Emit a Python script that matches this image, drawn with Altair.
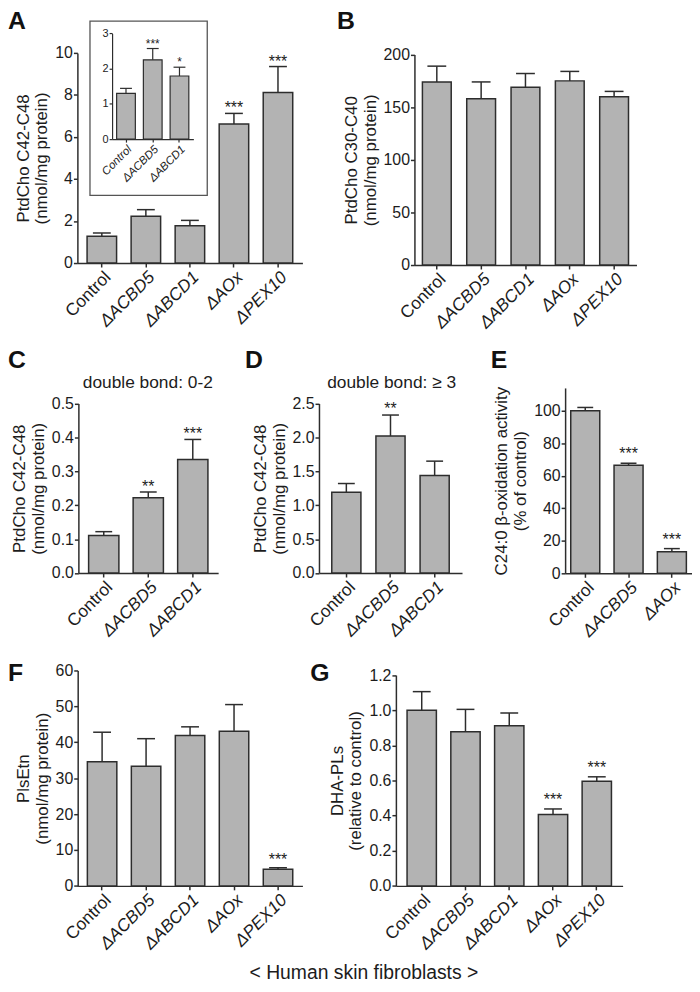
import altair as alt
import pandas as pd

FONT = "Liberation Sans"
BAR_FILL = "#b3b3b3"
INK = "#2d2d2d"
TXT = "#1c1c1c"
W, H = 690, 976

# ---------------- data ----------------
five_cats = ["Control", "ΔACBD5", "ΔABCD1", "ΔAOx", "ΔPEX10"]
three_cats_cd = ["Control", "ΔACBD5", "ΔABCD1"]
three_cats_e = ["Control", "ΔACBD5", "ΔAOx"]

a_mean = [1.28, 2.23, 1.77, 6.62, 8.12]
a_sem = [0.15, 0.31, 0.26, 0.50, 1.23]
a_sig = ["", "", "", "***", "***"]

inset_mean = [1.30, 2.25, 1.79]
inset_sem = [0.14, 0.32, 0.25]
inset_sig = ["", "***", "*"]

b_mean = [174, 158, 169, 175, 160]
b_sem = [15, 16, 13, 9, 5]
b_sig = ["", "", "", "", ""]

c_mean = [0.111, 0.222, 0.335]
c_sem = [0.011, 0.017, 0.059]
c_sig = ["", "**", "***"]

d_mean = [1.19, 2.02, 1.44]
d_sem = [0.13, 0.31, 0.21]
d_sig = ["", "**", ""]

e_mean = [100.0, 66.5, 13.2]
e_sem = [2.0, 1.2, 2.0]
e_sig = ["", "***", "***"]

f_mean = [34.6, 33.3, 41.9, 43.1, 4.6]
f_sem = [8.2, 7.7, 2.4, 7.4, 0.45]
f_sig = ["", "", "", "", "***"]

g_mean = [1.0, 0.878, 0.912, 0.406, 0.596]
g_sem = [0.106, 0.127, 0.073, 0.032, 0.025]
g_sig = ["", "", "", "***", "***"]

letters = ["A", "B", "C", "D", "E", "F", "G"]
subtitles = ["double bond: 0-2", "double bond: ≥ 3"]
caption = ["< Human skin fibroblasts >"]

ITALIC_EXCEPT_CONTROL = {"condition": {"test": "datum.value === 'Control'", "value": "normal"},
                         "value": "italic"}


def panel(cats, mean, sem, sig, xr, pi, po, yr, ydom, yvals, yfmt, ytitle,
          label_size=16, xlabel_size=17.5, title_size=17, star_size=16, star_dy=-1, cap=17,
          tick=4, dw=1.5, all_italic=False, label_pad=1, title_pad=4, z=0):
    df = pd.DataFrame({
        "cat": cats,
        "mean": mean,
        "top": [m + s for m, s in zip(mean, sem)],
        "sig": sig,
    })
    xs = alt.Scale(domain=cats, range=list(xr), paddingInner=pi, paddingOuter=po)
    ys = alt.Scale(domain=ydom, range=list(yr), nice=False, zero=True)
    common = dict(domainColor=INK, domainWidth=dw, tickColor=INK, tickWidth=dw,
                  tickSize=tick, labelFont=FONT, labelColor=TXT, titleFont=FONT,
                  titleFontWeight="normal", titleColor=TXT, grid=False, zindex=z)
    x_axis = alt.Axis(orient="bottom", offset=yr[0] - H, title=None, labelAngle=-45,
                      labelAlign="right", labelBaseline="top", labelFontSize=xlabel_size,
                      labelFontStyle="italic" if all_italic else ITALIC_EXCEPT_CONTROL,
                      labelPadding=label_pad, labelLimit=300, **common)
    y_kwargs = dict(orient="left", offset=-xr[0], values=yvals, labelFontSize=label_size,
                    labelPadding=label_pad, **common)
    if yfmt:
        y_kwargs["format"] = yfmt
    if ytitle is None:
        y_kwargs["title"] = None
    else:
        y_kwargs.update(title=ytitle, titleFontSize=title_size, titleLineHeight=19,
                        titlePadding=title_pad)
    y_axis = alt.Axis(**y_kwargs)

    X = alt.X("cat:N", scale=xs, axis=x_axis)
    base = alt.Chart(df)
    bars = base.mark_bar(fill=BAR_FILL, stroke=INK, strokeWidth=dw).encode(
        x=X, y=alt.Y("mean:Q", scale=ys, axis=y_axis))
    err = base.mark_rule(color=INK, strokeWidth=dw).encode(
        x=X, y=alt.Y("mean:Q", scale=ys, axis=y_axis), y2="top:Q")
    caps = base.mark_tick(color=INK, thickness=dw, size=cap, opacity=1).encode(
        x=X, y=alt.Y("top:Q", scale=ys, axis=y_axis))
    stars = base.mark_text(font=FONT, fontSize=star_size, color=TXT, baseline="alphabetic",
                           dy=star_dy).encode(
        x=X, y=alt.Y("top:Q", scale=ys, axis=y_axis), text="sig:N")
    return alt.layer(bars, err, caps, stars)


O = 8  # page margin offset between reference pixels and chart pixels

pA = panel(five_cats, a_mean, a_sem, a_sig, (78 - O, 305 - O), 0.33, 0.22,
           (261 - O, 49 - O), [0, 10], [0, 2, 4, 6, 8, 10], None,
           ["PtdCho C42-C48", "(nmol/mg protein)"], star_dy=0, cap=18)
pInset = panel(three_cats_cd, inset_mean, inset_sem, inset_sig, (113 - O, 195 - O), 0.3, 0.17,
               (136 - O, 29.3 - O), [0, 3], [0, 1, 2, 3], None, None,
               label_size=11, xlabel_size=11.5, star_size=12, star_dy=-1, cap=12, tick=3,
               dw=1.2, all_italic=True, label_pad=1, z=1)
pB = panel(five_cats, b_mean, b_sem, b_sig, (418 - O, 642 - O), 0.35, 0.18,
           (263 - O, 50.7 - O), [0, 200], [0, 50, 100, 150, 200], None,
           ["PtdCho C30-C40", "(nmol/mg protein)"], cap=19)
pC = panel(three_cats_cd, c_mean, c_sem, c_sig, (79 - O, 220 - O), 0.32, 0.23,
           (573.7 - O, 402.7 - O), [0, 0.5], [0, 0.1, 0.2, 0.3, 0.4, 0.5], ".1f",
           ["PtdCho C42-C48", "(nmol/mg protein)"], star_dy=0)
pD = panel(three_cats_cd, d_mean, d_sem, d_sig, (321.7 - O, 466 - O), 0.34, 0.29,
           (573.7 - O, 402.7 - O), [0, 2.5], [0, 0.5, 1.0, 1.5, 2.0, 2.5], ".1f",
           ["PtdCho C42-C48", "(nmol/mg protein)"], star_dy=-1)
pE = panel(three_cats_e, e_mean, e_sem, e_sig, (570 - O, 698 - O), 0.33, 0.13,
           (574 - O, 387 - O), [0, 114], [0, 20, 40, 60, 80, 100], None,
           ["C24:0 β-oxidation activity", "(% of control)"], star_dy=-4, cap=16)
pF = panel(five_cats, f_mean, f_sem, f_sig, (78.3 - O, 305 - O), 0.33, 0.22,
           (889.3 - O, 672 - O), [0, 60], [0, 10, 20, 30, 40, 50, 60], None,
           ["PlsEtn", "(nmol/mg protein)"], star_dy=-3, cap=18)
pG = panel(five_cats, g_mean, g_sem, g_sig, (399.3 - O, 628 - O), 0.33, 0.255,
           (889.3 - O, 676.7 - O), [0, 1.2], [0, 0.2, 0.4, 0.6, 0.8, 1.0, 1.2], ".1f",
           ["DHA-PLs", "(relative to control)"], star_dy=-4, cap=18)

# ---------------- annotations (pixel placement) ----------------
letter_df = pd.DataFrame({
    "t": letters,
    "x": [0, 332, 0, 239, 487, 0, 305],
    "y": [17, 17, 359, 359, 359, 675, 675],
})
letter_layer = alt.Chart(letter_df).mark_text(
    font=FONT, fontSize=25, fontWeight="bold", color="#111", align="left",
    baseline="alphabetic").encode(
    x=alt.X("x:Q", scale=None, axis=None), y=alt.Y("y:Q", scale=None, axis=None), text="t:N")

sub_df = pd.DataFrame({"t": subtitles, "x": [141, 387], "y": [379, 379]})
sub_layer = alt.Chart(sub_df).mark_text(
    font=FONT, fontSize=17.5, color=TXT, align="center", baseline="alphabetic").encode(
    x=alt.X("x:Q", scale=None, axis=None), y=alt.Y("y:Q", scale=None, axis=None), text="t:N")

cap_df = pd.DataFrame({"t": caption, "x": [359], "y": [975]})
cap_layer = alt.Chart(cap_df).mark_text(
    font=FONT, fontSize=19.5, color=TXT, align="center", baseline="alphabetic").encode(
    x=alt.X("x:Q", scale=None, axis=None), y=alt.Y("y:Q", scale=None, axis=None), text="t:N")

frame_df = pd.DataFrame({"x": [90.7 - O], "x2": [209 - O], "y": [17 - O], "y2": [192.7 - O]})
frame_layer = alt.Chart(frame_df).mark_rect(fill="white", stroke="#555", strokeWidth=1.3).encode(
    x=alt.X("x:Q", scale=None, axis=None), x2="x2:Q",
    y=alt.Y("y:Q", scale=None, axis=None), y2="y2:Q")

chart = alt.layer(
    pA, frame_layer, pInset, pB, pC, pD, pE, pF, pG,
    letter_layer, sub_layer, cap_layer,
).resolve_scale(
    x="independent", y="independent"
).properties(
    width=W, height=H, padding=0, autosize=alt.AutoSizeParams(type="none"),
    background="white",
).configure_view(stroke=None)

chart.save("out.html", embed_options={"renderer": "svg", "actions": False})
